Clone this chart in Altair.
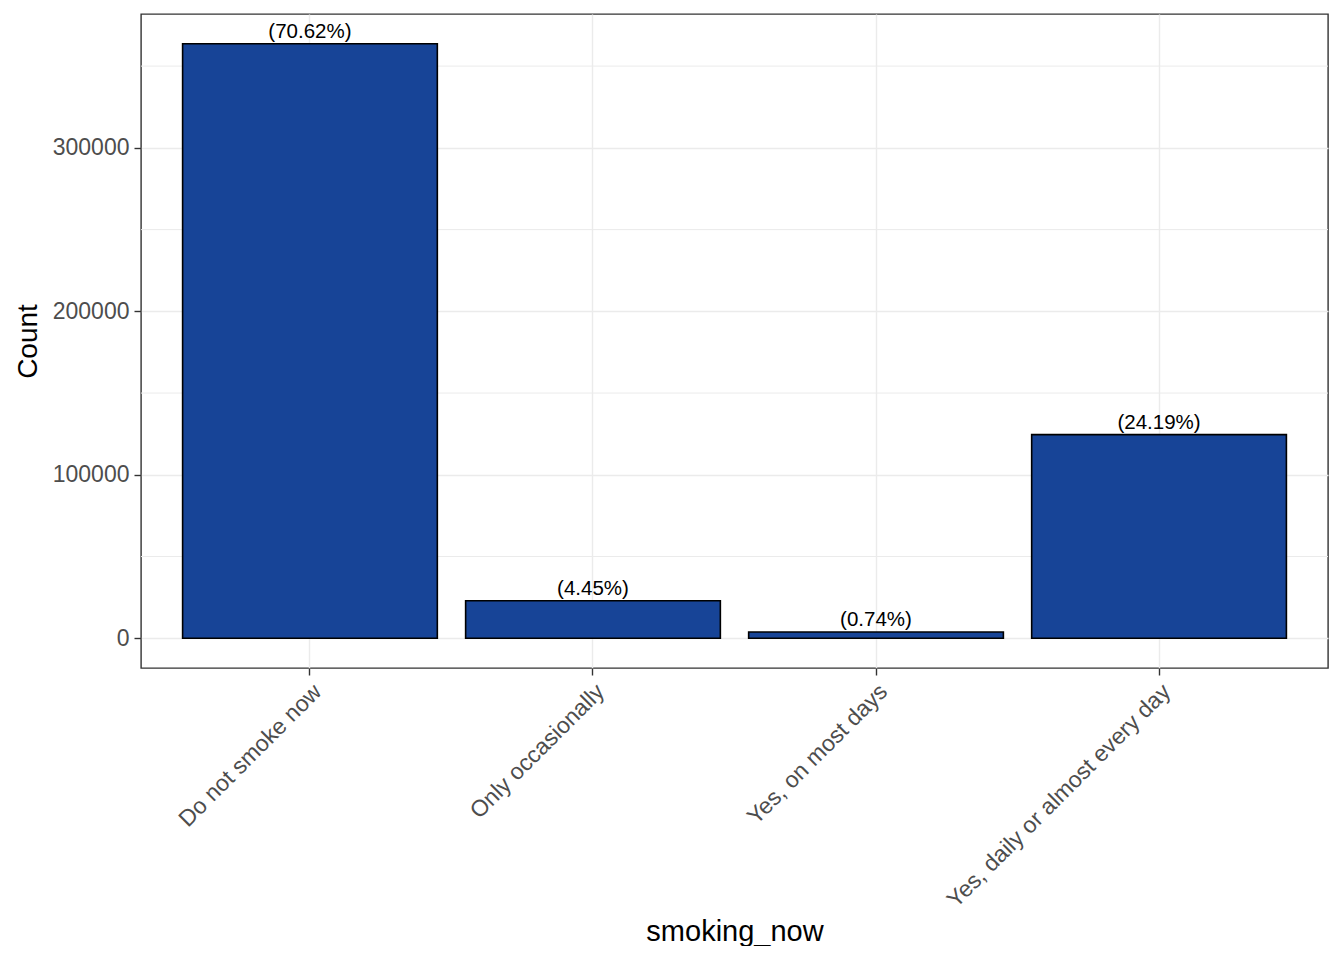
import altair as alt
import pandas as pd

categories = ["Do not smoke now", "Only occasionally", "Yes, on most days", "Yes, daily or almost every day"]
counts = [363700, 22920, 3810, 124580]
pcts = [70.62, 4.45, 0.74, 24.19]
minor_grid = [50000, 150000, 250000, 350000]
major_ticks = [0, 100000, 200000, 300000]

df = pd.DataFrame({"cat": categories, "count": counts,
                   "label": [f"({p:.2f}%)" for p in pcts]})
grid_df = pd.DataFrame({"v": minor_grid})

FONT = "Liberation Sans"
ydom = [-18185, 381885]

xenc = alt.X("cat:N", sort=categories, title="smoking_now",
             scale=alt.Scale(paddingInner=0.1, paddingOuter=0.147),
             axis=alt.Axis(labelAngle=-45, labelAlign="right", labelBaseline="top",
                           bandPosition=0.5, grid=True, gridColor="#EBEBEB", gridWidth=1.4,
                           tickSize=7, tickColor="#333333", tickWidth=1.4, labelLimit=0,
                           domain=False, labelFont=FONT, labelFontSize=23, labelColor="#4D4D4D",
                           labelPadding=5, titleFont=FONT, titleFontSize=29, titleFontWeight="normal",
                           titleColor="black", titlePadding=49))
yscale = alt.Scale(domain=ydom, nice=False, zero=False)

grid = alt.Chart(grid_df).mark_rule(color="#EBEBEB", strokeWidth=1).encode(
    y=alt.Y("v:Q", scale=yscale))

bars = alt.Chart(df).mark_bar(color="#174497", stroke="black", strokeWidth=1.6).encode(
    x=xenc,
    y=alt.Y("count:Q", scale=yscale, title="Count",
            axis=alt.Axis(values=major_ticks, format="d", grid=True, gridColor="#EBEBEB",
                          gridWidth=1.4, tickSize=7, tickColor="#333333", tickWidth=1.4,
                          domain=False, labelFont=FONT, labelFontSize=23, labelColor="#4D4D4D",
                          labelPadding=5, titleFont=FONT, titleFontSize=28,
                          titleFontWeight="normal", titleColor="black", titlePadding=10)),
    y2=alt.datum(0))

text = alt.Chart(df).mark_text(font=FONT, fontSize=20.5, color="black", baseline="bottom", dy=-2).encode(
    x=alt.X("cat:N", sort=categories),
    y=alt.Y("count:Q", scale=yscale),
    text="label:N")

chart = alt.layer(grid, bars, text).properties(
    width=1187, height=654,
    padding={"left": 6, "top": 6, "right": 0, "bottom": 0}
).configure(background="white").configure_view(stroke="#333333", strokeWidth=1.4)

chart.save("out.html", embed_options={"renderer": "svg", "actions": False})
